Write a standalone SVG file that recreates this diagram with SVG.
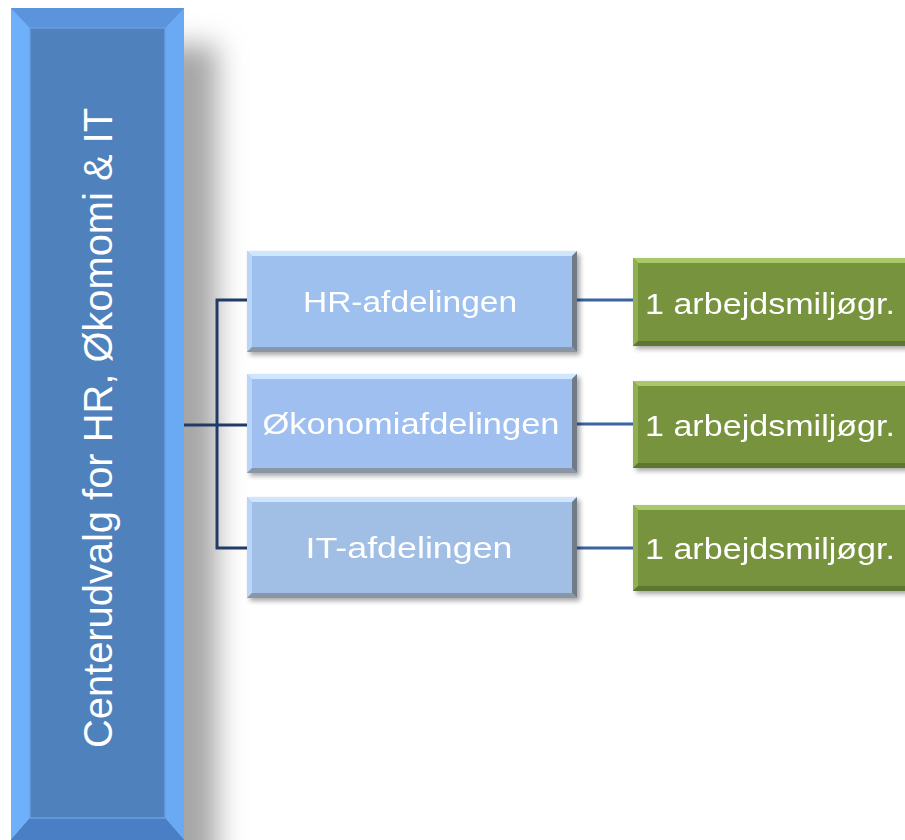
<svg xmlns="http://www.w3.org/2000/svg" width="905" height="840" viewBox="0 0 905 840">
<defs>
<filter id="ds" x="-10%" y="-10%" width="130%" height="140%">
<feGaussianBlur in="SourceAlpha" stdDeviation="2.5"/>
<feOffset dx="3" dy="3" result="b"/>
<feComponentTransfer><feFuncA type="linear" slope="0.35"/></feComponentTransfer>
<feMerge><feMergeNode/><feMergeNode in="SourceGraphic"/></feMerge>
</filter>
<filter id="blur" x="-100%" y="-10%" width="300%" height="120%">
<feGaussianBlur stdDeviation="14"/>
</filter>
</defs>
<style>
.t{font-family:"Liberation Sans","Open Sans",sans-serif;fill:#ffffff;}
.lk{fill:none;stroke:#1f3c66;stroke-width:3;}
.lk2{fill:none;stroke:#3b63a0;stroke-width:3;}
.hi{fill:#cfe6ff;}
.dk{fill:#6f7a88;}
.gh{fill:#a9c86a;}
.gd{fill:#5e7530;}
</style>

<g id="center">
<rect x="155" y="45" width="62" height="840" fill="#a6a6a6" filter="url(#blur)"/>
<rect x="11" y="8" width="173" height="840" fill="#4f81bd"/>
<polygon points="11,8 184,8 165,28 30,28" fill="#5c94dc"/>
<polygon points="11,8 30,28 30,818 11,840" fill="#6eb0fa"/>
<polygon points="184,8 165,28 165,818 184,840" fill="#6aaaf4"/>
<polygon points="30,818 165,818 184,840 11,840" fill="#4a7fc6"/>
<rect x="30" y="28" width="135" height="790" fill="#4f81bd" stroke="#6a9fe0" stroke-width="1.5"/>
<text class="t" transform="translate(112,428) rotate(-90)" text-anchor="middle" font-size="41" textLength="640" lengthAdjust="spacingAndGlyphs">Centerudvalg for HR, Økomomi &amp; IT</text>
</g>

<g id="connectors">
<polyline class="lk" points="247,300 217,300 217,548 247,548"/>
<line class="lk" x1="184" y1="425" x2="247" y2="425"/>
<line class="lk2" x1="577" y1="300" x2="633" y2="300"/>
<line class="lk2" x1="577" y1="424" x2="633" y2="424"/>
<line class="lk2" x1="577" y1="548" x2="633" y2="548"/>
</g>

<g id="hr" filter="url(#ds)">
<rect x="247" y="251" width="330" height="101" fill="#9dc0ef"/>
<polygon class="hi" points="247,251 577,251 572,256 252,256"/>
<polygon fill="#b9d6fa" points="247,251 252,256 252,347 247,352"/>
<polygon class="dk" points="577,251 572,256 572,347 577,352"/>
<polygon fill="#8a96a6" points="252,347 572,347 577,352 247,352"/>
<text class="t" x="410" y="312" text-anchor="middle" font-size="30" textLength="214" lengthAdjust="spacingAndGlyphs">HR-afdelingen</text>
</g>

<g id="okonomi" filter="url(#ds)">
<rect x="247" y="374" width="330" height="99" fill="#9ebff0"/>
<polygon class="hi" points="247,374 577,374 572,379 252,379"/>
<polygon fill="#b9d6fa" points="247,374 252,379 252,468 247,473"/>
<polygon class="dk" points="577,374 572,379 572,468 577,473"/>
<polygon fill="#8a96a6" points="252,468 572,468 577,473 247,473"/>
<text class="t" x="411" y="434" text-anchor="middle" font-size="30" textLength="297" lengthAdjust="spacingAndGlyphs">Økonomiafdelingen</text>
</g>

<g id="it" filter="url(#ds)">
<rect x="247" y="497" width="330" height="101" fill="#a1bee5"/>
<polygon class="hi" points="247,497 577,497 572,502 252,502"/>
<polygon fill="#b9d6fa" points="247,497 252,502 252,593 247,598"/>
<polygon class="dk" points="577,497 572,502 572,593 577,598"/>
<polygon fill="#8a96a6" points="252,593 572,593 577,598 247,598"/>
<text class="t" x="409" y="558" text-anchor="middle" font-size="30" textLength="207" lengthAdjust="spacingAndGlyphs">IT-afdelingen</text>
</g>

<g id="g1" filter="url(#ds)">
<rect x="633" y="258" width="280" height="88" fill="#77933c"/>
<polygon class="gh" points="633,258 913,258 913,263 638,263"/>
<polygon fill="#8fb04f" points="633,258 638,263 638,341 633,346"/>
<polygon class="gd" points="638,341 913,341 913,346 633,346"/>
<text class="t" x="645" y="314" font-size="30" textLength="250" lengthAdjust="spacingAndGlyphs">1 arbejdsmiljøgr.</text>
</g>

<g id="g2" filter="url(#ds)">
<rect x="633" y="381" width="280" height="87" fill="#77933c"/>
<polygon class="gh" points="633,381 913,381 913,386 638,386"/>
<polygon fill="#8fb04f" points="633,381 638,386 638,463 633,468"/>
<polygon class="gd" points="638,463 913,463 913,468 633,468"/>
<text class="t" x="645" y="436" font-size="30" textLength="250" lengthAdjust="spacingAndGlyphs">1 arbejdsmiljøgr.</text>
</g>

<g id="g3" filter="url(#ds)">
<rect x="633" y="505" width="280" height="86" fill="#77933c"/>
<polygon class="gh" points="633,505 913,505 913,510 638,510"/>
<polygon fill="#8fb04f" points="633,505 638,510 638,586 633,591"/>
<polygon class="gd" points="638,586 913,586 913,591 633,591"/>
<text class="t" x="645" y="559" font-size="30" textLength="250" lengthAdjust="spacingAndGlyphs">1 arbejdsmiljøgr.</text>
</g>
</svg>
